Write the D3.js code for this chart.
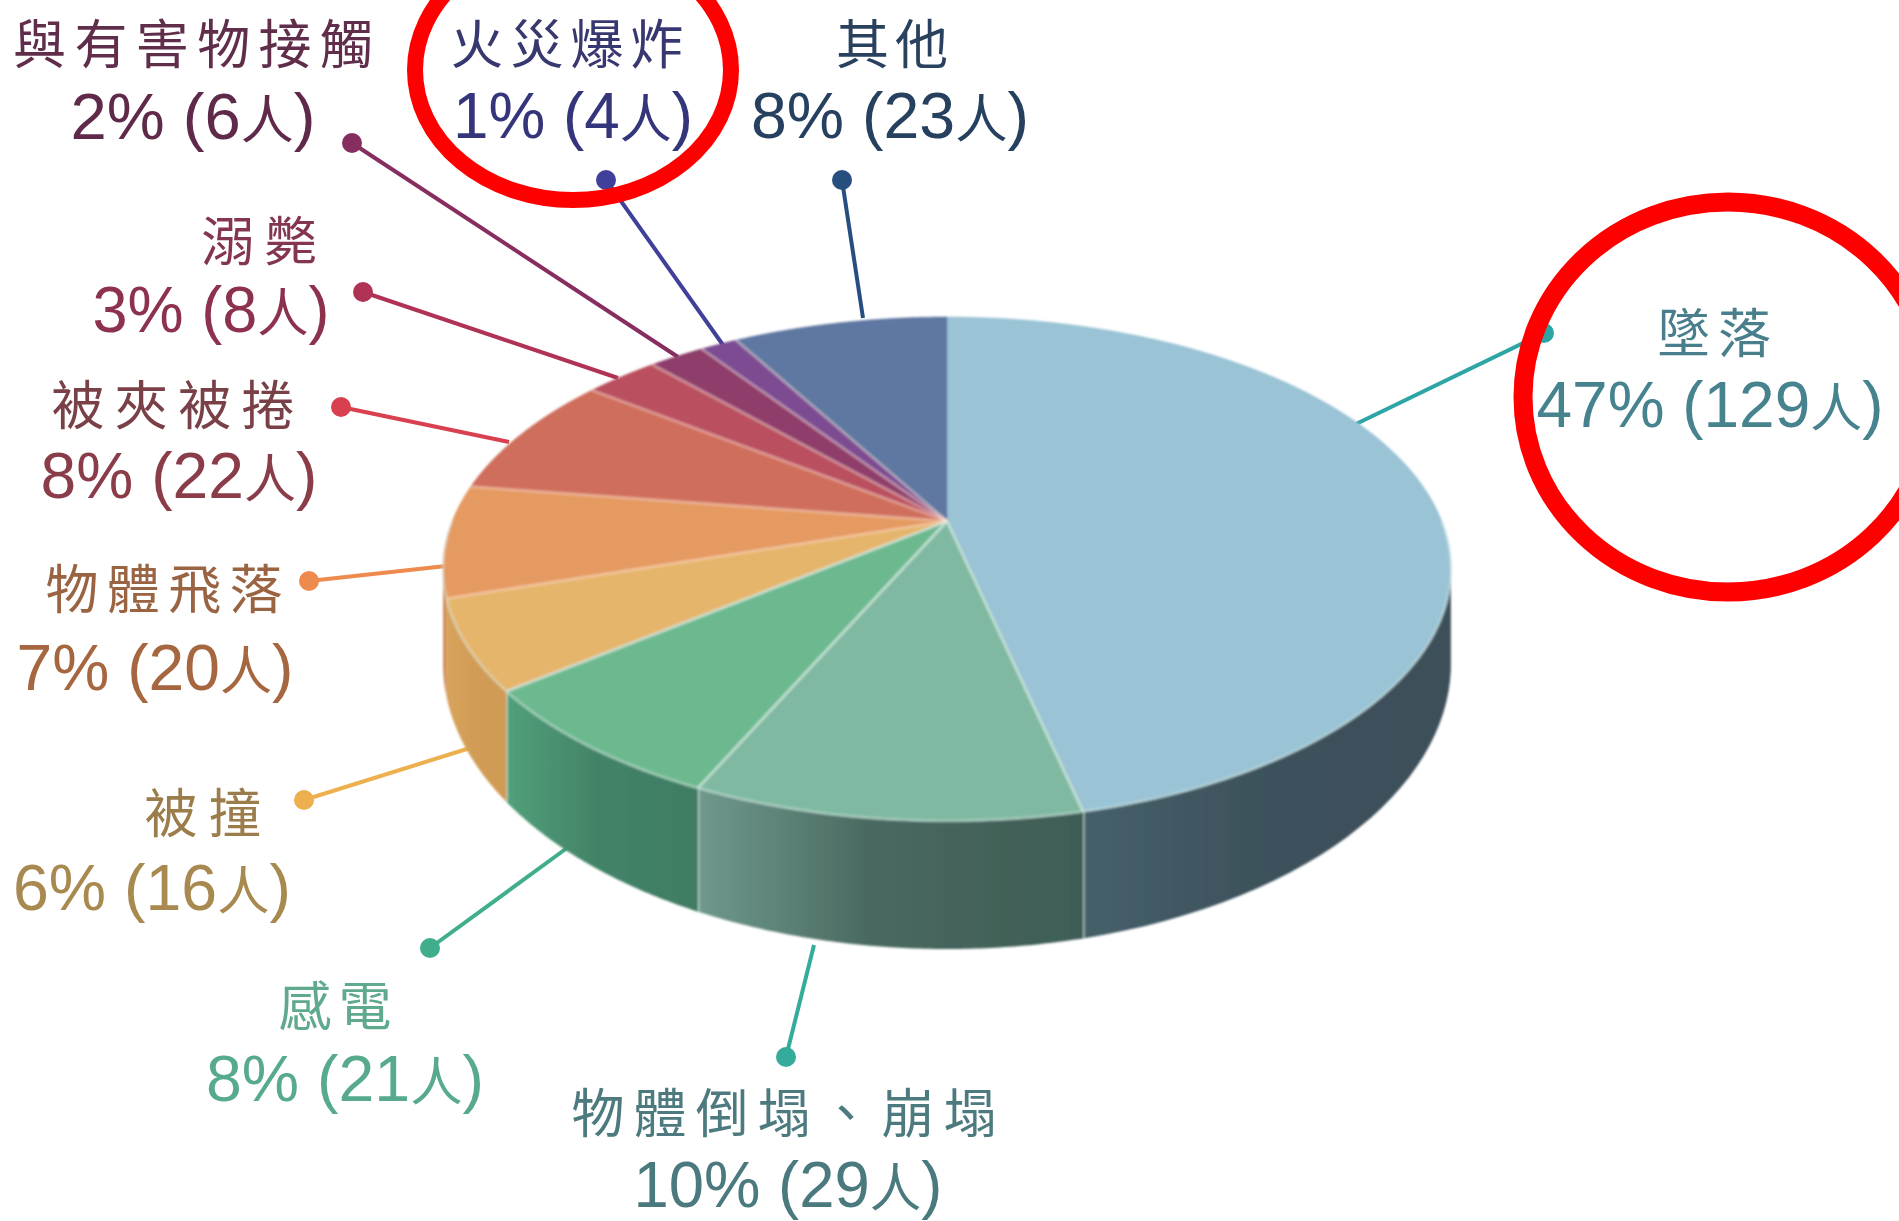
<!DOCTYPE html>
<html><head><meta charset="utf-8">
<script src="https://cdn.jsdelivr.net/npm/d3@7/dist/d3.min.js"></script>
<style>html,body{margin:0;background:#fff;overflow:hidden}svg{display:block}
text{text-anchor:middle}
.n{font-family:"Noto Sans CJK TC","Noto Sans CJK SC",sans-serif;font-size:53px;font-weight:400}
.v{font-family:"Liberation Sans","Noto Sans CJK TC",sans-serif;font-size:64px}
.u{font-family:"Noto Sans CJK TC",sans-serif;font-size:52px;font-weight:400}
</style></head><body><svg id="c" width="1899" height="1221"></svg>
<script>
// Data (clockwise from 12 o'clock)
const categories=["墜落","物體倒塌、崩塌","感電","被撞","物體飛落","被夾被捲","溺斃","與有害物接觸","火災爆炸","其他"];
const people=[129,29,21,16,20,22,8,6,4,23];
const percents=[47,10,8,6,7,8,3,2,1,8];
// Styles
const topColors=["#9ac3d5","#80b9a2","#6db98f","#e6b56c","#e59a62","#cf6e5b","#b9505f","#8f3d6b","#7b4b92","#5f78a2"];
const wallLeft=["#46606a","#6f998c","#52a07a","#d9a35c","#d4935a","#b05a4c","#96404e","#73305a","#603a78","#4a5f85"];
const wallRight=["#3c4f59","#3f5d55","#3f7d63","#cf9a55","#cc8a52","#b05a4c","#96404e","#73305a","#603a78","#4a5f85"];
const lineColors=["#2fa5a5","#36ab9c","#3fae8c","#eeb04f","#ee8a4e","#d9414f","#b03355","#862d5e","#40409a","#26507f"];
const nameColors=["#4a7f8c","#4d7a7e","#5fa98c","#9a7d4c","#9a6443","#7a4046","#843650","#602f4b","#38386f","#29405f"];
const valueColors=["#46828f","#4b7a7e","#58aa8c","#a8894f","#a5663f","#8a3d4a","#8c304e","#5f2a4a","#34347c","#263f60"];
// Layout (same order as categories)
const dotX=[1544,786,430,304,309,341,363,352,606,842];
const dotY=[333,1057,948,800,581,407,292,143,180,180];
const edgeX=[1356,814,567,470,446,509,618,678,723,863];
const edgeY=[424,945,848,748,566,442,378,357,345,318];
const nameCx=[1714,784,335,203,164,173,259,193,567,892];
const nameY=[353,1133,1026,833,609,425,261,64,64,64];
const nameW=[114,425,113,117,237,243,116,360,233,112];
const valueCx=[1710,788,345,152,155,179,211,193,573,890];
const valueY=[427,1207,1101,910,690,498,332,139,138,138];
const valueW=[347,309,278,278,277,277,237,245,240,278];

const svg=d3.select("#c");
const cx=947,rx=504,cy=569,ry=252,cyB=663,ryB=286,tilt=0.19;
const X=d3.scaleLinear([-1,1],[cx-rx,cx+rx]);
const Y=d3.scaleLinear([-1,1],[cy+ry,cy-ry]);
const YB=d3.scaleLinear([-1,1],[cyB+ryB,cyB-ryB]);
// perspective: disc centre moves towards the back rim
const proj=(a,r=1)=>{const x=r*Math.sin(a),y=r*Math.cos(a),k=1+tilt*y;
  return [x*Math.sqrt(1-tilt*tilt)/k,(y+tilt)/k];};
const arcs=d3.pie().sort(null).startAngle(0).endAngle(2*Math.PI)(people);
const samples=d=>d3.range(0,81).map(i=>d.startAngle+(d.endAngle-d.startAngle)*i/80);
const line=d3.line();
const defs=svg.append("defs");
const blur=defs.append("filter").attr("id","soft").attr("x","-5%").attr("y","-5%").attr("width","110%").attr("height","110%");
blur.append("feGaussianBlur").attr("stdDeviation",1.3);
const tblur=defs.append("filter").attr("id","softT").attr("x","-5%").attr("y","-20%").attr("width","110%").attr("height","140%");
tblur.append("feGaussianBlur").attr("stdDeviation",0.7);
arcs.forEach((d,i)=>{const g=defs.append("linearGradient").attr("id","w"+i);
  g.append("stop").attr("offset",0).attr("stop-color",wallLeft[i]);
  g.append("stop").attr("offset",0.45).attr("stop-color",d3.interpolateRgb(wallLeft[i],wallRight[i])(0.8));
  g.append("stop").attr("offset",1).attr("stop-color",wallRight[i]);});

// leader lines
const leaders=svg.append("g").attr("filter","url(#softT)");
categories.forEach((c,i)=>{
  leaders.append("line").attr("x1",dotX[i]).attr("y1",dotY[i]).attr("x2",edgeX[i]).attr("y2",edgeY[i])
    .attr("stroke",lineColors[i]).attr("stroke-width",4);
  leaders.append("circle").attr("cx",dotX[i]).attr("cy",dotY[i]).attr("r",10).attr("fill",lineColors[i]);
});

const pie=svg.append("g").attr("filter","url(#soft)");
// rim wall
arcs.forEach((d,i)=>{
  const pts=samples(d).map(a=>proj(a)).filter(p=>p[1]<=0);
  if(pts.length<2)return;
  const poly=pts.map(p=>[X(p[0]),Y(p[1])]).concat(pts.slice().reverse().map(p=>[X(p[0]),YB(p[1])]));
  pie.append("path").attr("d",line(poly)+"Z").attr("fill",`url(#w${i})`);
  const p=pts[pts.length-1];
  if(i<3)pie.append("line").attr("x1",X(p[0])).attr("x2",X(p[0])).attr("y1",Y(p[1])).attr("y2",YB(p[1]))
    .attr("stroke","#cfe3da").attr("stroke-opacity",.7).attr("stroke-width",3);
});
// top face
arcs.forEach((d,i)=>{
  const pts=samples(d).map(a=>proj(a)).map(p=>[X(p[0]),Y(p[1])]);
  const apex=proj(0,0);
  pie.append("path").attr("d",line([[X(apex[0]),Y(apex[1])],...pts])+"Z").attr("fill",topColors[i])
    .attr("stroke",topColors[i]).attr("stroke-width",.5);
});
// pale separators
arcs.forEach((d,i)=>{
  const a=proj(0,0),p=proj(d.endAngle);
  if(i==arcs.length-1)return;
  pie.append("line").attr("x1",X(a[0])).attr("y1",Y(a[1])).attr("x2",X(p[0])).attr("y2",Y(p[1]))
    .attr("stroke",i<3?"#cfe6dc":"#ffe6d8").attr("stroke-opacity",i<3?.75:.4).attr("stroke-width",3);
});
// pale front rim
const rim=d3.range(0,161).map(i=>proj(Math.PI/2+Math.PI*i/160)).map(p=>[X(p[0]),Y(p[1])]);
pie.append("path").attr("d",line(rim)).attr("fill","none").attr("stroke","#d8ece6").attr("stroke-opacity",.4).attr("stroke-width",3);

// labels
const labels=svg.append("g").attr("filter","url(#softT)");
categories.forEach((c,i)=>{
  labels.append("text").attr("class","n").attr("x",nameCx[i]).attr("y",nameY[i]).attr("fill",nameColors[i])
    .attr("textLength",nameW[i]).attr("lengthAdjust","spacing").text(c);
  const t=labels.append("text").attr("class","v").attr("x",valueCx[i]).attr("y",valueY[i]).attr("fill",valueColors[i])
    .attr("textLength",valueW[i]).attr("lengthAdjust","spacingAndGlyphs");
  t.append("tspan").text(`${percents[i]}% (${people[i]}`);
  t.append("tspan").attr("class","u").text("人");
  t.append("tspan").text(")");
});

// red hand-drawn circles
const marks=svg.append("g").attr("fill","none").attr("stroke","#ff0000");
marks.append("ellipse").attr("cx",573).attr("cy",70).attr("rx",158).attr("ry",130).attr("stroke-width",16);
marks.append("ellipse").attr("cx",1728).attr("cy",397).attr("rx",205).attr("ry",195).attr("stroke-width",19);
</script></body></html>
